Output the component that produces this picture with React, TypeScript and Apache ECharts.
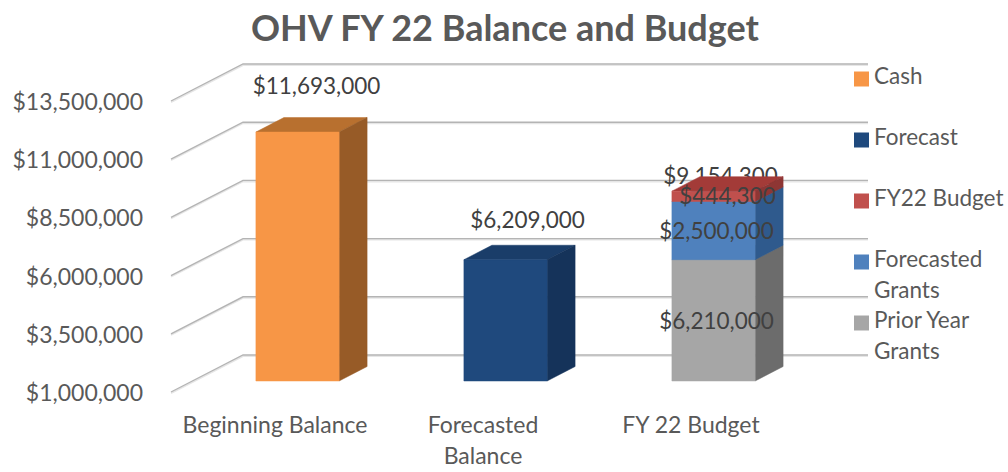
import React, { useEffect, useRef } from "react";
import * as echarts from "echarts";

const categories = ["Beginning Balance", "Forecasted Balance", "FY 22 Budget"];
const cash = [11693000, null, null];
const forecast = [null, 6209000, null];
const priorYearGrants = [null, null, 6210000];
const forecastedGrants = [null, null, 2500000];
const fy22Budget = [null, null, 444300];
const budgetTotal = [null, null, 9154300];
const axisTicks = [1000000, 3500000, 6000000, 8500000, 11000000, 13500000];

const AXIS_MIN = axisTicks[0];
const AXIS_MAX = axisTicks[axisTicks.length - 1];
const FONT = "Lato, Carlito, sans-serif";
const money = (v: number) => "$" + v.toLocaleString("en-US");

const faces = {
  Cash: ["#F79646", "#B8702F", "#975B27"],
  Forecast: ["#1F497D", "#1A3D69", "#15335A"],
  "FY22 Budget": ["#C0504D", "#A33B38", "#8E3634"],
  "Forecasted Grants": ["#4F81BD", "#3F6C9F", "#2F5A8D"],
  "Prior Year Grants": ["#A6A6A6", "#8A8A8A", "#6C6C6C"],
};

function segments(values: (number | null)[], below: (number | null)[][]) {
  return values
    .map((v, i) => {
      if (v == null) return null;
      const base = below.reduce((sum, arr) => sum + (arr[i] || 0), 0);
      return [i, base, base + v, v];
    })
    .filter(Boolean);
}

// Bars sit behind the front plane of the chart floor
const BAR_DX = 22.5;
const BAR_DY = -11;
const DEPTH_X = 28;
const DEPTH_Y = -14.5;
const WALL_DX = 72;
const WALL_DY = -37;

function barSeries(name: keyof typeof faces, data: any[], z: number) {
  const [front, top, side] = faces[name];
  return {
    type: "custom",
    name,
    z,
    data,
    encode: { x: 0, y: [1, 2] },
    itemStyle: { color: front },
    renderItem: (_: any, api: any) => {
      const i = api.value(0);
      const w = api.size([1, 0])[0] * 0.4;
      const p0 = api.coord([i, Math.max(api.value(1), AXIS_MIN)]);
      const p1 = api.coord([i, api.value(2)]);
      const l = p0[0] + BAR_DX - w / 2;
      const r = l + w;
      const b = p0[1] + BAR_DY;
      const t = p1[1] + BAR_DY;
      const face = (points: number[][], fill: string) => ({
        type: "polygon",
        shape: { points },
        style: { fill, stroke: fill, lineWidth: 0.5 },
      });
      return {
        type: "group",
        children: [
          face([[l, t], [r, t], [r + DEPTH_X, t + DEPTH_Y], [l + DEPTH_X, t + DEPTH_Y]], top),
          face([[r, t], [r + DEPTH_X, t + DEPTH_Y], [r + DEPTH_X, b + DEPTH_Y], [r, b]], side),
          face([[l, t], [r, t], [r, b], [l, b]], front),
        ],
      };
    },
  };
}

function labelSeries(name: string, rows: any[], z: number) {
  return {
    type: "custom",
    name,
    z,
    silent: true,
    data: rows,
    encode: { x: 0, y: 1 },
    renderItem: (_: any, api: any) => {
      const p = api.coord([api.value(0), api.value(1)]);
      return {
        type: "text",
        style: {
          x: p[0] + BAR_DX + api.value(3),
          y: p[1] + BAR_DY + api.value(4),
          text: money(api.value(2)),
          fill: "#404040",
          fontSize: 22.5,
          fontFamily: FONT,
          align: "center",
          verticalAlign: "middle",
        },
      };
    },
  };
}

const gridSeries = {
  type: "custom",
  name: "gridlines",
  z: 0,
  silent: true,
  data: axisTicks.map((t) => [0, t]),
  encode: { y: 1 },
  renderItem: (params: any, api: any) => {
    const y = api.coord([0, api.value(1)])[1];
    const cs = params.coordSys;
    const pts = (o: number) => [
      [cs.x, y + o],
      [cs.x + WALL_DX, y + WALL_DY + o],
      [cs.x + cs.width + WALL_DX + 1, y + WALL_DY + o],
    ];
    return {
      type: "group",
      children: [
        { type: "polyline", shape: { points: pts(1.2) }, style: { stroke: "#E6E6E6", lineWidth: 1.6, fill: "none" } },
        { type: "polyline", shape: { points: pts(0) }, style: { stroke: "#B4B4B4", lineWidth: 1.4, fill: "none" } },
      ],
    };
  },
};

const LEGEND_LINE = 31;
const LEGEND_SHIFT = 8;
const legendSlots = [
  { name: "Cash", y: 79, lines: ["Cash"] },
  { name: "Forecast", y: 140, lines: ["Forecast"] },
  { name: "FY22 Budget", y: 201, lines: ["FY22 Budget"] },
  { name: "Forecasted Grants", y: 262, lines: ["", "Forecasted", "Grants"] },
  { name: "Prior Year Grants", y: 323, lines: ["", "Prior Year", "Grants"] },
];

export default function App() {
  const ref = useRef<HTMLDivElement>(null);
  useEffect(() => {
    const chart = echarts.init(ref.current!, null, { renderer: "svg" });
    const priorRows = segments(priorYearGrants, []);
    const grantRows = segments(forecastedGrants, [priorYearGrants]);
    const budgetRows = segments(fy22Budget, [priorYearGrants, forecastedGrants]);
    const cashRows = segments(cash, []);
    const forecastRows = segments(forecast, []);
    const mid = (r: any) => (Math.max(r[1], AXIS_MIN) + r[2]) / 2;
    const labelRows = [
      ...cashRows.map((r: any) => [r[0], r[2], r[3], 19, -47]),
      ...forecastRows.map((r: any) => [r[0], r[2], r[3], 22, -40]),
      ...budgetRows.map((r: any) => [r[0], mid(r), r[3], 14, -1]),
      ...grantRows.map((r: any) => [r[0], mid(r), r[3], 3, 0]),
      ...priorRows.map((r: any) => [r[0], mid(r), r[3], 3, 0]),
    ];
    const totalRows = budgetTotal
      .map((v, i) => (v == null ? null : [i, v, v, 7, -16]))
      .filter(Boolean);

    chart.setOption({
      animation: false,
      backgroundColor: "#fff",
      title: {
        text: "OHV FY 22 Balance and Budget",
        left: 246,
        top: 4,
        textStyle: { fontFamily: FONT, fontSize: 36, fontWeight: "bold", color: "#595959" },
      },
      legend: legendSlots.map((s) => {
        const h = s.lines.length * LEGEND_LINE + LEGEND_SHIFT;
        return {
          show: true,
          data: [s.name],
          selectedMode: false,
          orient: "vertical",
          left: 854,
          top: s.y - h / 2,
          padding: 0,
          itemWidth: 15,
          itemHeight: 15,
          itemGap: 0,
          icon: "rect",
          formatter: () =>
            s.lines.map((l) => (l ? `{t|${l}}` : "{t| }")).join("\n") + "\n{s| }",
          textStyle: {
            rich: {
              t: { fontFamily: FONT, fontSize: 22.5, color: "#595959", lineHeight: LEGEND_LINE, height: LEGEND_LINE },
              s: { fontFamily: FONT, fontSize: 4, lineHeight: LEGEND_SHIFT, height: LEGEND_SHIFT },
            },
          },
        };
      }),
      grid: { left: 171, top: 101, width: 624, height: 291, containLabel: false },
      xAxis: {
        type: "category",
        data: categories,
        axisLine: { show: false },
        axisTick: { show: false },
        axisLabel: {
          interval: 0,
          margin: 16,
          fontFamily: FONT,
          fontSize: 23,
          color: "#595959",
          lineHeight: 31,
          verticalAlign: "top",
          formatter: (v: string) => (v === "Forecasted Balance" ? "Forecasted\nBalance" : v),
        },
      },
      yAxis: {
        type: "value",
        min: AXIS_MIN,
        max: AXIS_MAX,
        axisLine: { show: false },
        axisTick: { show: false },
        splitLine: { show: false },
        axisLabel: {
          customValues: axisTicks,
          margin: 28,
          fontFamily: FONT,
          fontSize: 23,
          color: "#595959",
          padding: [0, 0, 4, 0],
          formatter: (v: number) => money(v),
        },
      },
      series: [
        gridSeries,
        labelSeries("Total", totalRows, 1),
        barSeries("Cash", cashRows, 2),
        barSeries("Forecast", forecastRows, 2),
        barSeries("Prior Year Grants", priorRows, 3),
        barSeries("Forecasted Grants", grantRows, 4),
        barSeries("FY22 Budget", budgetRows, 5),
        labelSeries("Data labels", labelRows, 10),
      ],
    });
    return () => chart.dispose();
  }, []);
  return <div ref={ref} style={{ position: "fixed", left: 0, top: 0, width: 1008, height: 472 }} />;
}
